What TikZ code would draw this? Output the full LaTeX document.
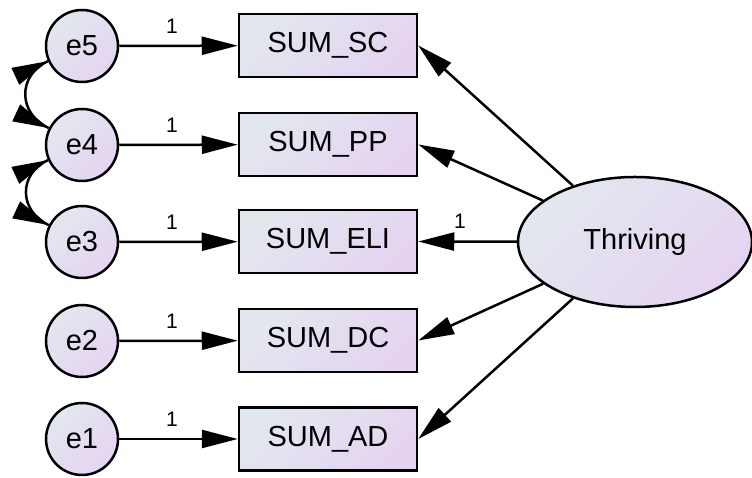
\documentclass[tikz,border=0pt]{standalone}
\usepackage{fontspec}
\setmainfont{Liberation Sans}
\usetikzlibrary{arrows.meta,shapes.geometric}

\definecolor{fillA}{RGB}{226,231,238}
\definecolor{fillB}{RGB}{229,212,241}

\tikzset{
  shadefill/.style={left color=fillA, right color=fillB, shading angle=45},
  errvar/.style={circle, draw, line width=2.5pt, shadefill, minimum size=72pt, inner sep=0pt,
                 font=\fontsize{29}{29}\selectfont},
  obsvar/.style={rectangle, draw, line width=2.5pt, shadefill, minimum width=178pt, minimum height=63pt,
                 inner sep=0pt, font=\fontsize{29}{29}\selectfont},
  latvar/.style={ellipse, draw, line width=2.5pt, shadefill, minimum width=234pt, minimum height=130pt,
                 inner sep=0pt, font=\fontsize{29}{29}\selectfont},
  path/.style={line width=2.5pt, -{Triangle[length=36pt,width=18pt]}},
  covarc/.style={line width=2.5pt},
  wlabel/.style={font=\fontsize{21}{21}\selectfont, inner sep=0pt}
}

\begin{document}
\begin{tikzpicture}[x=1pt,y=1pt]
\useasboundingbox (0,0) rectangle (752,478);

% observed indicators
\node[obsvar] (sc)  at (328,432.5) {SUM\_SC};
\node[obsvar] (pp)  at (328,333.5) {SUM\_PP};
\node[obsvar] (eli) at (328,236.5) {SUM\_ELI};
\node[obsvar] (dc)  at (328,137.5) {SUM\_DC};
\node[obsvar] (ad)  at (328,39)    {SUM\_AD};

% error terms
\node[errvar] (e5) at (82,432) {e5};
\node[errvar] (e4) at (82,333) {e4};
\node[errvar] (e3) at (82,236) {e3};
\node[errvar] (e2) at (82,137) {e2};
\node[errvar] (e1) at (82,39)  {e1};

% latent factor
\node[latvar] (th) at (635,236) {Thriving};

% error paths
\draw[path] (e5) -- (sc);
\draw[path] (e4) -- (pp);
\draw[path] (e3) -- (eli);
\draw[path] (e2) -- (dc);
\draw[path] (e1) -- (ad);

% fixed loadings on the error paths
\node[wlabel] (l5) at (172,452) {1};
\node[wlabel] (l4) at (172,353) {1};
\node[wlabel] (l3) at (172,256) {1};
\node[wlabel] (l2) at (172,157) {1};
\node[wlabel] (l1) at (172,59)  {1};

% factor loadings
\draw[path] (th) -- (sc.east);
\draw[path] (th) -- (pp.east);
\draw[path] (th) -- (eli.east);
\draw[path] (th) -- (dc.east);
\draw[path] (th) -- (ad.east);
\node[wlabel] (lth) at (460,257) {1};

% error covariances: full arcs, with straight heads laid along the end tangents
\draw[covarc] (e5.204) to[out=205,in=155,looseness=1.3] (e4.153);
\draw[path] ([shift={(205:20pt)}]e5.204) -- (e5.204);
\draw[path] ([shift={(155:20pt)}]e4.153) -- (e4.153);

\draw[covarc] (e4.204) to[out=205,in=155,looseness=1.3] (e3.153);
\draw[path] ([shift={(205:20pt)}]e4.204) -- (e4.204);
\draw[path] ([shift={(155:20pt)}]e3.153) -- (e3.153);
\end{tikzpicture}
\end{document}
